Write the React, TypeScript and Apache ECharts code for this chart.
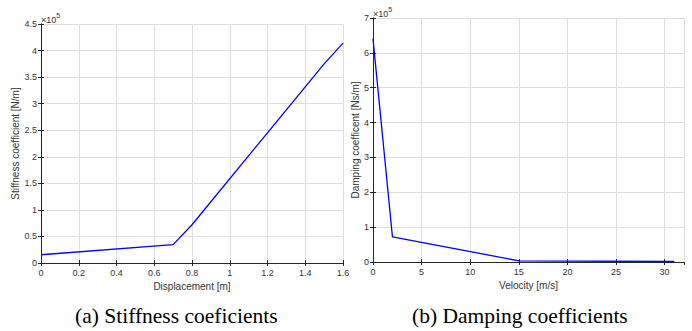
import React, { useEffect, useRef } from "react";
import * as echarts from "echarts";

// Stiffness (left panel)
const stiffX = [0, 0.7, 0.8, 1.5, 1.6];
const stiffY = [15500, 34500, 72000, 375000, 414000];
// Damping (right panel)
const dampX = [0, 2, 15, 31];
const dampY = [640000, 72000, 3500, 1500];

const stiffXName = "Displacement [m]";
const stiffYName = "Stiffness coefficient [N/m]";
const dampXName = "Velocity [m/s]";
const dampYName = "Damping coefficent [Ns/m]";
const captionA = "(a) Stiffness coeficients";
const captionB = "(b) Damping coefficients";

const TXT = "#333333";
const AX = "#262626";
const GRID = "#dedede";
const SANS = "'Liberation Sans', Arial, Helvetica, sans-serif";
const SERIF = "'Liberation Serif', 'Times New Roman', serif";

function fmtE5(v: number) {
  const r = Math.round((v / 1e5) * 100) / 100;
  return String(r);
}
function fmtX(v: number) {
  return String(Math.round(v * 100) / 100);
}

export default function App() {
  const ref = useRef<HTMLDivElement>(null);
  useEffect(() => {
    if (!ref.current) return;
    const chart = echarts.init(ref.current, null, { renderer: "svg" });
    const tickLabel = { color: TXT, fontSize: 9, fontFamily: SANS };
    const nameStyle = { color: TXT, fontSize: 10, fontFamily: SANS };
    const axisLine = { show: true, lineStyle: { color: AX, width: 1 } };
    const tick = { show: true, inside: true, length: 3, lineStyle: { color: AX } };
    const split = { show: true, lineStyle: { color: GRID, width: 1 } };

    const xBottom = (gi: number, min: number, max: number, interval: number, name: string, fmt: any, showMax: boolean) => ({
      type: "value", gridIndex: gi, position: "bottom", min, max, interval,
      name, nameLocation: "middle", nameGap: 17, nameTextStyle: nameStyle,
      axisLine, axisTick: tick, splitLine: split,
      axisLabel: { ...tickLabel, margin: 5, formatter: fmt, showMaxLabel: showMax },
    });
    const xTop = (gi: number, min: number, max: number, interval: number) => ({
      type: "value", gridIndex: gi, position: "top", min, max, interval,
      axisLine, axisTick: tick, splitLine: { show: false }, axisLabel: { show: false },
    });
    const yLeft = (gi: number, min: number, max: number, interval: number, name: string, gap: number) => ({
      type: "value", gridIndex: gi, position: "left", min, max, interval,
      name, nameLocation: "middle", nameGap: gap, nameTextStyle: nameStyle,
      axisLine, axisTick: tick, splitLine: split,
      axisLabel: { ...tickLabel, margin: 4, formatter: fmtE5 },
    });
    const yRight = (gi: number, min: number, max: number, interval: number) => ({
      type: "value", gridIndex: gi, position: "right", min, max, interval,
      axisLine, axisTick: tick, splitLine: { show: false }, axisLabel: { show: false },
    });

    const exp = (x: number, y: number) => ({
      type: "text", left: x, top: y,
      style: {
        text: "{a|×10}{b|5}",
        rich: {
          a: { fontSize: 9, fontFamily: SANS, fill: TXT, verticalAlign: "bottom" },
          b: { fontSize: 7, fontFamily: SANS, fill: TXT, verticalAlign: "top", padding: [0, 0, 5, 0] },
        },
      },
    });

    chart.setOption({
      animation: false,
      grid: [
        { left: 41, right: 349, top: 24, bottom: 68 },
        { left: 373, right: 8, top: 18, bottom: 69 },
      ],
      xAxis: [
        xBottom(0, 0, 1.6, 0.2, stiffXName, fmtX, true),
        xTop(0, 0, 1.6, 0.2),
        xBottom(1, 0, 32, 5, dampXName, fmtX, false),
        xTop(1, 0, 32, 5),
      ],
      yAxis: [
        yLeft(0, 0, 450000, 50000, stiffYName, 21),
        yRight(0, 0, 450000, 50000),
        yLeft(1, 0, 700000, 100000, dampYName, 13),
        yRight(1, 0, 700000, 100000),
      ],
      series: [
        {
          type: "line", xAxisIndex: 0, yAxisIndex: 0, showSymbol: false, symbol: "none",
          lineStyle: { color: "#0000ff", width: 1.3 },
          data: stiffX.map((x, i) => [x, stiffY[i]]),
        },
        {
          type: "line", xAxisIndex: 2, yAxisIndex: 2, showSymbol: false, symbol: "none",
          lineStyle: { color: "#0000ff", width: 1.3 },
          data: dampX.map((x, i) => [x, dampY[i]]),
        },
      ],
      graphic: [
        exp(41, 12),
        exp(373, 6),
        {
          type: "text", top: 305, left: 75,
          style: { text: captionA, fontSize: 21.5, fontFamily: SERIF, fill: "#000" },
        },
        {
          type: "text", top: 305, left: 412,
          style: { text: captionB, fontSize: 21.5, fontFamily: SERIF, fill: "#000" },
        },
      ],
    });
    return () => chart.dispose();
  }, []);
  return (
    <div style={{ position: "absolute", left: 0, top: 0, width: 692, height: 331, background: "#fff" }}>
      <div ref={ref} style={{ width: 692, height: 331 }} />
    </div>
  );
}
